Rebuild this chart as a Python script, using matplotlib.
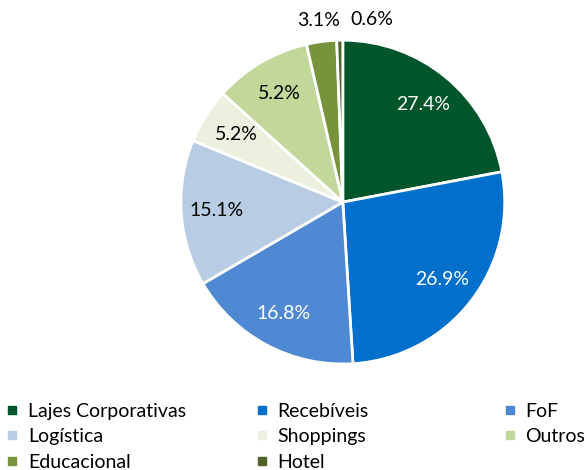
import numpy as np
import matplotlib.pyplot as plt
from matplotlib.lines import Line2D

plt.rcParams['font.family'] = ['Lato', 'DejaVu Sans']

categorias = ['Lajes Corporativas', 'Recebíveis', 'FoF', 'Logística',
              'Shoppings', 'Outros', 'Educacional', 'Hotel']
# percentages printed on the chart
rotulos = [27.4, 26.9, 16.8, 15.1, 5.2, 5.2, 3.1, 0.6]
# slice sizes as drawn in the picture (they don't match the printed labels)
fatias = [22.0, 27.0, 17.6, 14.6, 5.5, 9.7, 3.0, 0.6]
cores = ['#00562A', '#0070CC', '#4F89D4', '#B8CCE4',
         '#EBF1DE', '#C4D79B', '#77933C', '#4F6228']
cor_texto = ['white', 'white', 'white', 'black',
             'black', 'black', 'black', 'black']

fig = plt.figure(figsize=(5.87, 4.70), dpi=100)
ax = fig.add_axes([0.308, 0.2255, 0.552, 0.689])

wedges, _ = ax.pie(fatias, colors=cores, startangle=90, counterclock=False,
                   radius=1.0,
                   wedgeprops=dict(edgecolor='white', linewidth=2))
ax.set_xlim(-1, 1)
ax.set_ylim(-1, 1)
ax.set_aspect('equal')

for w, v, c in zip(wedges, rotulos, cor_texto):
    ang = np.deg2rad((w.theta1 + w.theta2) / 2)
    if v < 4:
        # small slices: label outside
        r = 1.13
        dx = 0.2 if v < 1 else 0.0
    else:
        r = 0.78
        dx = 0.0
    ax.text(r * np.cos(ang) + dx, r * np.sin(ang), f'{v:.1f}%',
            ha='center', va='center', color=c, fontsize=14, clip_on=False)

handles = [Line2D([], [], marker='s', linestyle='', markersize=6,
                  markerfacecolor=c, markeredgecolor=c) for c in cores]

# three legend columns placed by hand
colunas = [[0, 3, 6], [1, 4, 7], [2, 5]]
xs = [0.011, 0.436, 0.859]
for idx, x in zip(colunas, xs):
    fig.legend([handles[i] for i in idx], [categorias[i] for i in idx],
               loc='upper left', bbox_to_anchor=(x, 0.143), ncol=1,
               frameon=False, fontsize=14, handletextpad=0.5,
               handlelength=0.6, labelspacing=0.43, borderpad=0,
               borderaxespad=0)

fig.savefig('out.png', dpi=100)
